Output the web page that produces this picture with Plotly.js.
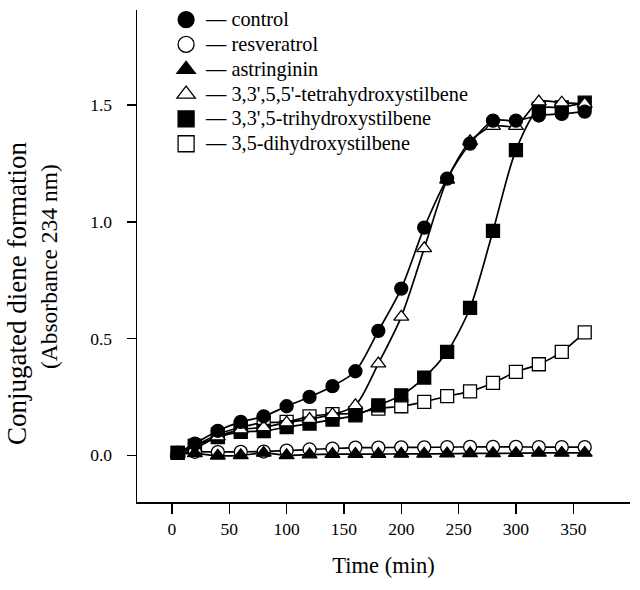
<!DOCTYPE html>
<html>
<head>
<meta charset="utf-8">
<script src="https://cdn.plot.ly/plotly-3.0.1.min.js"></script>
<style>html,body{margin:0;padding:0;background:#fff;}#chart{width:640px;height:590px;}</style>
</head>
<body>
<div id="chart"></div>
<script>
var time = [5, 20, 40, 60, 80, 100, 120, 140, 160, 180, 200, 220, 240, 260, 280, 300, 320, 340, 360];

var control = [0.01, 0.05, 0.105, 0.143, 0.167, 0.21, 0.25, 0.296, 0.36, 0.533, 0.714, 0.975, 1.185, 1.335, 1.433, 1.433, 1.455, 1.462, 1.472];
var resveratrol = [0.01, 0.015, 0.014, 0.015, 0.016, 0.02, 0.025, 0.029, 0.033, 0.033, 0.034, 0.034, 0.035, 0.036, 0.036, 0.036, 0.035, 0.035, 0.035];
var astringinin = [0.005, 0.008, -0.002, 0.0, 0.01, 0.0, 0.003, 0.005, 0.005, 0.005, 0.006, 0.006, 0.007, 0.008, 0.008, 0.009, 0.01, 0.01, 0.01];
var tetrahydroxy = [0.01, 0.03, 0.08, 0.11, 0.12, 0.14, 0.155, 0.175, 0.214, 0.393, 0.593, 0.886, 1.18, 1.345, 1.41, 1.41, 1.515, 1.51, 1.505];
var trihydroxy = [0.01, 0.04, 0.078, 0.1, 0.104, 0.121, 0.136, 0.153, 0.171, 0.214, 0.257, 0.333, 0.443, 0.631, 0.961, 1.307, 1.484, 1.49, 1.51];
var dihydroxy = [0.01, 0.04, 0.09, 0.12, 0.14, 0.143, 0.167, 0.176, 0.18, 0.2, 0.21, 0.229, 0.253, 0.274, 0.31, 0.357, 0.39, 0.443, 0.526];

var seriesNames = ["control", "resveratrol", "astringinin", "3,3',5,5'-tetrahydroxystilbene", "3,3',5-trihydroxystilbene", "3,5-dihydroxystilbene"];
var xTickVals = [0, 50, 100, 150, 200, 250, 300, 350];
var yTickVals = [0, 0.5, 1.0, 1.5];
var xTitle = "Time (min)";
var yTitleLine1 = "Conjugated diene formation";
var yTitleLine2 = "(Absorbance 234 nm)";

var seriesData = [control, resveratrol, astringinin, tetrahydroxy, trihydroxy, dihydroxy];
var symbols = ["circle", "circle", "triangle-up", "triangle-up", "square", "square"];
var fills = ["#000", "#fff", "#000", "#fff", "#000", "#fff"];

var drawOrder = [5, 4, 3, 1, 2, 0];
var traces = [];
drawOrder.forEach(function (i) {
  traces.push({
    x: time, y: seriesData[i], type: "scatter", mode: "lines+markers",
    line: {color: "#000", width: 1.7, shape: "spline", smoothing: 0.8},
    marker: {symbol: symbols[i], size: 13, color: fills[i], line: {color: "#000", width: 1.3}},
    showlegend: false, hoverinfo: "skip"
  });
});
for (var i = 0; i < seriesNames.length; i++) {
  traces.push({
    x: [null], y: [null], type: "scatter", mode: "markers",
    name: '<span style="font-size:20.3px">\u2014 ' + seriesNames[i] + '</span>',
    marker: {symbol: symbols[i], size: 17, color: fills[i], line: {color: "#000", width: 1.3}},
    showlegend: true
  });
}

var font = "Liberation Serif, Times New Roman, serif";
var layout = {
  width: 640, height: 590,
  margin: {l: 137, r: 10, t: 10, b: 88, autoexpand: false},
  paper_bgcolor: "#fff", plot_bgcolor: "#fff",
  font: {family: font, color: "#000", size: 16},
  showlegend: true,
  legend: {x: 0.059, y: 1.016, xanchor: "left", yanchor: "top", bgcolor: "rgba(0,0,0,0)",
           font: {family: font, size: 16.8, color: "#000"}, tracegroupgap: 0, itemsizing: "trace"},
  xaxis: {
    range: [-30.5, 399.5], tickvals: xTickVals,
    showgrid: false, zeroline: false, showline: true, linecolor: "#000", linewidth: 1.5,
    ticks: "outside", ticklen: 10, tickwidth: 1.5, tickcolor: "#000",
    tickfont: {family: font, size: 17.5}, ticklabelstandoff: 0,
    title: {text: xTitle, font: {family: font, size: 22.5}, standoff: 19}
  },
  yaxis: {
    range: [-0.2, 1.907], tickvals: yTickVals, tickformat: ".1f",
    showgrid: false, zeroline: false, showline: true, linecolor: "#000", linewidth: 1.5,
    ticks: "outside", ticklen: 9, tickwidth: 1.5, tickcolor: "#000",
    tickfont: {family: font, size: 17.5}, ticklabelstandoff: 11
  },
  annotations: [
    {text: yTitleLine1, xref: "paper", yref: "paper", x: -0.2434, y: 0.4228, xanchor: "center", yanchor: "middle",
     textangle: -90, showarrow: false, font: {family: font, size: 27, color: "#000"}},
    {text: yTitleLine2, xref: "paper", yref: "paper", x: -0.1784, y: 0.4776, xanchor: "center", yanchor: "middle",
     textangle: -90, showarrow: false, font: {family: font, size: 23.5, color: "#000"}}
  ]
};

Plotly.newPlot("chart", traces, layout, {staticPlot: true, displayModeBar: false});
</script>
</body>
</html>
